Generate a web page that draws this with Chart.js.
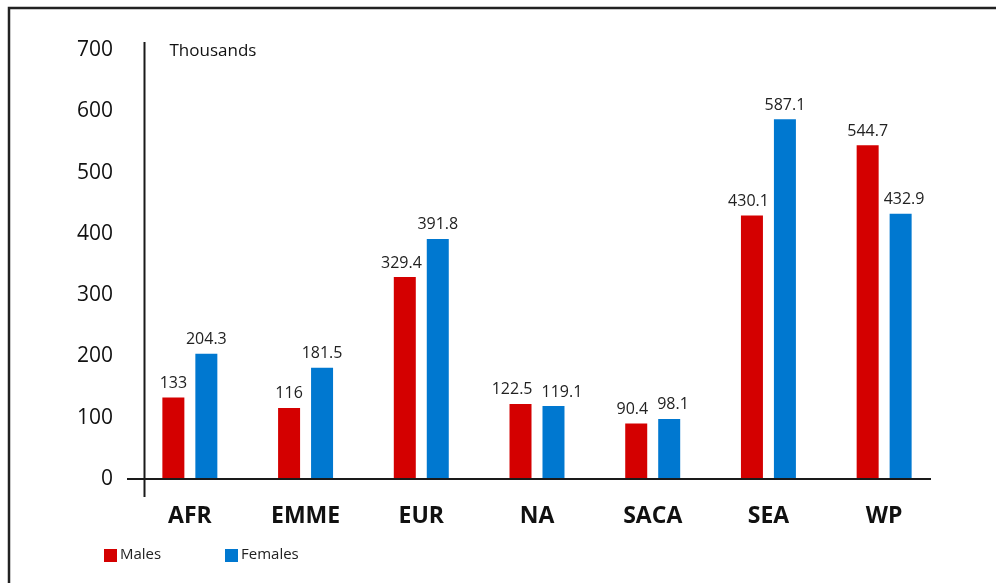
<!DOCTYPE html>
<html>
<head>
<meta charset="utf-8">
<script src="https://cdn.jsdelivr.net/npm/chart.js@4/dist/chart.umd.min.js"></script>
<style>
  html, body { margin: 0; padding: 0; background: #fff; }
  #wrap { position: relative; width: 996px; height: 583px; }
</style>
</head>
<body>
<div id="wrap"><canvas id="c" width="996" height="583"></canvas></div>
<script>
const categories = ["AFR", "EMME", "EUR", "NA", "SACA", "SEA", "WP"];
const males = [133, 116, 329.4, 122.5, 90.4, 430.1, 544.7];
const females = [204.3, 181.5, 391.8, 119.1, 98.1, 587.1, 432.9];
const seriesNames = ["Males", "Females"];
const yTicks = [0, 100, 200, 300, 400, 500, 600, 700];
const unitLabel = "Thousands";

const RED = "#d40000";
const BLUE = "#0078d0";
const FONT = "'Open Sans', 'Liberation Sans', sans-serif";

const decor = {
  id: "decor",
  beforeDraw(chart) {
    const ctx = chart.ctx;
    ctx.save();
    ctx.fillStyle = "#fff";
    ctx.fillRect(0, 0, chart.width, chart.height);
    ctx.strokeStyle = "#222";
    ctx.lineWidth = 2.5;
    ctx.beginPath();
    ctx.moveTo(9, chart.height);
    ctx.lineTo(9, 8);
    ctx.lineTo(chart.width, 8);
    ctx.stroke();
    ctx.restore();
  },
  afterDatasetsDraw(chart) {
    const ctx = chart.ctx;
    const ca = chart.chartArea;
    const y = chart.scales.y;
    const y0 = y.getPixelForValue(0);
    const yTop = y.getPixelForValue(yTicks[yTicks.length - 1]);
    ctx.save();
    ctx.strokeStyle = "#1a1a1a";
    ctx.lineWidth = 2;
    ctx.beginPath();
    ctx.moveTo(ca.left - 5, y0);
    ctx.lineTo(ca.right - 11, y0);
    ctx.stroke();
    const ax = ca.left + 12.5;
    ctx.beginPath();
    ctx.moveTo(ax, yTop - 8);
    ctx.lineTo(ax, y0 + 18);
    ctx.stroke();

    ctx.fillStyle = "#111";
    ctx.font = "17px " + FONT;
    ctx.textAlign = "left";
    ctx.textBaseline = "middle";
    ctx.fillText(unitLabel, ax + 25, yTop + 1);

    // data labels with simple collision avoidance
    ctx.font = "16px " + FONT;
    ctx.textAlign = "center";
    ctx.textBaseline = "bottom";
    ctx.fillStyle = "#222";
    const m0 = chart.getDatasetMeta(0), m1 = chart.getDatasetMeta(1);
    const d0 = chart.data.datasets[0].data, d1 = chart.data.datasets[1].data;
    const LH = 16, GAP = 9, CLEAR = 5;
    for (let i = 0; i < categories.length; i++) {
      const a = m0.data[i], b = m1.data[i];
      const ta = String(d0[i]), tb = String(d1[i]);
      const wa = ctx.measureText(ta).width, wb = ctx.measureText(tb).width;
      let xa = a.x, xb = b.x;
      const ya = a.y - 6, yb = b.y - 6;
      if (Math.abs(ya - yb) < LH) {
        const gap = (xb - wb / 2) - (xa + wa / 2);
        if (gap < GAP) { const s = (GAP - gap) / 2; xa -= s; xb += s; }
      } else if (ya > yb) {
        // male label lower: clear the female bar's left edge
        const edge = b.x - b.width / 2;
        const gap = edge - (xa + wa / 2);
        if (gap < CLEAR) xa -= (CLEAR - gap);
      } else {
        const edge = a.x + a.width / 2;
        const gap = (xb - wb / 2) - edge;
        if (gap < CLEAR) xb += (CLEAR - gap);
      }
      ctx.fillText(ta, xa, ya);
      ctx.fillText(tb, xb, yb);
    }

    // legend
    ctx.font = "15px " + FONT;
    ctx.textAlign = "left";
    ctx.textBaseline = "middle";
    const legX = [104, 225];
    chart.data.datasets.forEach((ds, di) => {
      ctx.fillStyle = ds.backgroundColor;
      ctx.fillRect(legX[di], 549, 13, 13);
      ctx.fillStyle = "#222";
      ctx.fillText(ds.label, legX[di] + 16, 555);
    });
    ctx.restore();
  }
};

new Chart(document.getElementById("c"), {
  type: "bar",
  data: {
    labels: categories,
    datasets: [
      { label: seriesNames[0], data: males, backgroundColor: RED, categoryPercentage: 0.57, barPercentage: 0.667 },
      { label: seriesNames[1], data: females, backgroundColor: BLUE, categoryPercentage: 0.57, barPercentage: 0.667 }
    ]
  },
  options: {
    responsive: false,
    animation: false,
    devicePixelRatio: 1,
    layout: { padding: { left: 0, right: 54, top: 50, bottom: 0 } },
    plugins: { legend: { display: false }, tooltip: { enabled: false } },
    scales: {
      x: {
        grid: { display: false, drawTicks: false },
        border: { display: false },
        ticks: { color: "#111", padding: 24, font: { family: FONT, size: 23, weight: "bold" } },
        afterFit(s) { s.height = 104; }
      },
      y: {
        min: 0, max: 700,
        afterBuildTicks(s) { s.ticks = yTicks.map(v => ({ value: v })); },
        grid: { display: false, drawTicks: false },
        border: { display: false },
        ticks: { color: "#111", padding: 19, font: { family: FONT, size: 21 } },
        afterFit(s) { s.width = 132; }
      }
    }
  },
  plugins: [decor]
});
</script>
</body>
</html>
